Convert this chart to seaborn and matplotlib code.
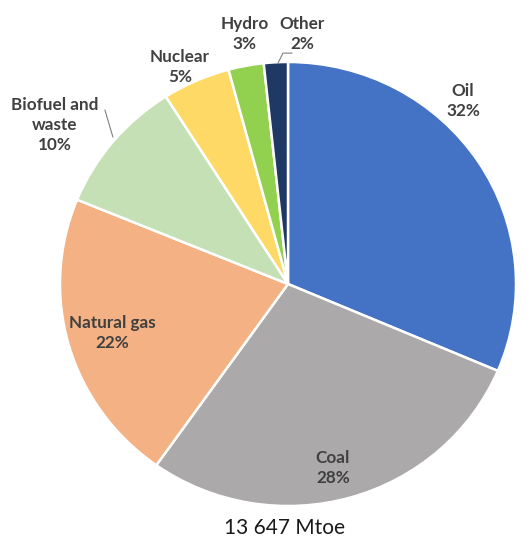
import matplotlib
matplotlib.use("Agg")
import matplotlib.pyplot as plt
import seaborn as sns

# shares (clockwise from 12 o'clock)
sources = ["Oil", "Coal", "Natural gas", "Biofuel and\nwaste", "Nuclear", "Hydro", "Other"]
shares = [31.4, 28.4, 21.4, 9.8, 4.8, 2.5, 1.7]
pct_labels = ["32%", "28%", "22%", "10%", "5%", "3%", "2%"]
colors = ["#4472C4", "#ABA9A9", "#F4B183", "#C5E0B4", "#FFD966", "#92D050", "#1F3864"]
total_text = "13 647 Mtoe"

sns.set_theme(style="white")
plt.rcParams["font.family"] = ["Lato", "DejaVu Sans"]

fig = plt.figure(figsize=(5.3, 5.5), dpi=100)
# pie centred at about (288, 284) px, radius ~228 x 222 px
ax = fig.add_axes([0.1132, 0.0800, 0.8604, 0.8073])

ax.pie(shares, colors=colors, startangle=90, counterclock=False,
       wedgeprops=dict(edgecolor="white", linewidth=1.8))
ax.set_aspect("auto")
ax.set_xlim(-1, 1)
ax.set_ylim(-1, 1)

# label positions in data units (radius = 1)
label_pos = [(0.768, 0.824), (0.197, -0.829), (-0.772, -0.221),
             (-1.022, 0.716), (-0.474, 0.977), (-0.189, 1.126), (0.061, 1.126)]
for name, pct, (x, y) in zip(sources, pct_labels, label_pos):
    ax.text(x, y, f"{name}\n{pct}", ha="center", va="center", fontsize=12.3,
            fontweight="bold", color="#404040", linespacing=1.3, clip_on=False)

# leader lines
ax.plot([-0.803, -0.768], [0.784, 0.662], color="#7f7f7f", lw=0.8, clip_on=False)
ax.plot([-0.044, -0.022, 0.018], [0.995, 1.04, 1.04], color="#7f7f7f", lw=0.8, clip_on=False)

fig.text(285 / 530, 1 - 528 / 550, total_text, ha="center", va="center",
         fontsize=15, color="#1a1a1a")

fig.savefig("out.png", dpi=100, facecolor="white")
